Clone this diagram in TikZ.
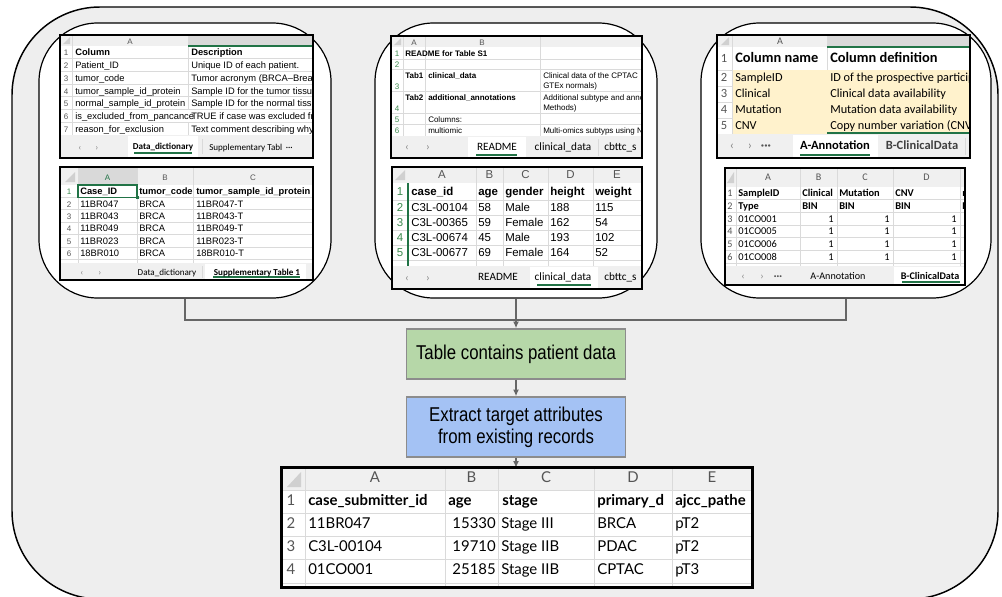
\documentclass[tikz,border=0pt]{standalone}
\usepackage{fontspec}
\setmainfont{Liberation Sans}
\newfontfamily\calib{Carlito}
\newfontfamily\latof{Lato}
\newfontfamily\narrowf[FakeStretch=0.84]{Liberation Sans}
\usetikzlibrary{arrows.meta}
\definecolor{outerbg}{HTML}{EEEEEE}
\definecolor{hdr}{HTML}{F0F0F0}
\definecolor{hdrsel}{HTML}{D9D9D9}
\definecolor{gridc}{HTML}{DADADA}
\definecolor{xg}{HTML}{217346}
\definecolor{tabbg}{HTML}{F0F0F0}
\definecolor{hdrtxt}{HTML}{555555}
\definecolor{rngreen}{HTML}{3D8A4F}
\definecolor{beige}{HTML}{FFF2CC}
\definecolor{gboxc}{HTML}{B6D7A8}
\definecolor{bboxc}{HTML}{A4C2F4}
\definecolor{boxline}{HTML}{8C8C8C}
\definecolor{connc}{HTML}{666666}
\definecolor{tric}{HTML}{D0D0D0}
\newcounter{tn}
\newcommand{\tx}[3][]{\stepcounter{tn}\node[txt,#1] (t\arabic{tn}) at (#2) {#3};}
\tikzset{
 txt/.style={inner sep=0pt, anchor=mid west},
 gridln/.style={draw=gridc, line width=0.5pt},
 sheet/.style={draw=black, line width=1.6pt},
 panel/.style={draw=black, fill=white, line width=0.9pt, rounded corners=44pt, inner sep=0pt},
 conn/.style={draw=connc, line width=1pt},
 arr/.style={conn, -{Latex[length=5pt,width=4.5pt]}},
 flowbox/.style={draw=boxline, line width=1.1pt, inner sep=0pt, align=center, font=\narrowf\fontsize{15}{16.5}\selectfont},
 hlet/.style={anchor=mid, text=hdrtxt},
 rnum/.style={anchor=mid, text=hdrtxt},
 rng/.style={anchor=mid, text=rngreen},
 f1/.style={font=\fontsize{7}{8}\selectfont},
 f1b/.style={font=\fontsize{7}{8}\selectfont\bfseries},
 f2/.style={font=\fontsize{6}{7}\selectfont},
 f2b/.style={font=\fontsize{6}{7}\selectfont\bfseries},
 f3/.style={font=\fontsize{8.6}{9}\selectfont},
 f3b/.style={font=\fontsize{8.6}{9}\selectfont\bfseries},
 f4/.style={font=\calib\fontsize{9.2}{10}\selectfont},
 f4b/.style={font=\calib\bfseries\fontsize{10.8}{12}\selectfont},
 f5/.style={font=\calib\fontsize{7.8}{9}\selectfont},
 f5b/.style={font=\calib\bfseries\fontsize{7.8}{9}\selectfont},
 f6/.style={font=\latof\fontsize{11.2}{12}\selectfont},
 f6b/.style={font=\latof\bfseries\fontsize{11.2}{12}\selectfont},
 ta/.style={font=\calib\fontsize{6.8}{8}\selectfont},
 tab/.style={font=\calib\bfseries\fontsize{6.8}{8}\selectfont},
 tb/.style={font=\calib\fontsize{8.4}{9}\selectfont},
 tc/.style={font=\calib\fontsize{9.4}{10}\selectfont},
 tcb/.style={font=\calib\bfseries\fontsize{9.4}{10}\selectfont},
 td/.style={font=\calib\fontsize{7.6}{9}\selectfont},
 tdb/.style={font=\calib\bfseries\fontsize{7.6}{9}\selectfont},
}
\begin{document}
\begin{tikzpicture}[x=0.75pt,y=-0.75pt]
\useasboundingbox (0,0) rectangle (1002,596);
\clip (0,0) rectangle (1002,596);
\fill[white] (0,0) rectangle (1002,596);
% outer frame
\draw[fill=outerbg, line width=1.1pt, rounded corners=66pt] (12,7) rectangle (998,599);

% panels
\node[panel, minimum width=219pt, minimum height=206.25pt] (p1) at (185,160.5) {};
\node[panel, minimum width=211.5pt, minimum height=206.25pt] (p2) at (516,160.5) {};
\node[panel, minimum width=217.5pt, minimum height=206.25pt] (p3) at (846,160.5) {};

% ================= Sheet 1a
\begin{scope}
 \clip (60,35) rectangle (313,158);
 \fill[white] (60,35) rectangle (313,158);
 \fill[hdr] (60,35) rectangle (313,46);
 \fill[hdrsel] (188,35) rectangle (313,46);
 \fill[tric] (70,37) -- (70,44) -- (63,44) -- cycle;
 \foreach \yy in {58.7,71.4,84.1,96.8,109.5,122.2} \draw[gridln] (60,\yy) -- (313,\yy);
 \draw[gridln] (72,35) -- (72,135) (188,35) -- (188,135);
 \draw[xg,line width=1pt] (188,46) -- (313,46);
 \tx[f2,hlet]{130,41}{A}
 \tx[f2,rnum]{66,52.4}{1}\tx[f2,rnum]{66,65.1}{2}\tx[f2,rnum]{66,77.8}{3}\tx[f2,rnum]{66,90.5}{4}
 \tx[f2,rnum]{66,103.2}{5}\tx[f2,rnum]{66,115.9}{6}\tx[f2,rnum]{66,128.6}{7}
 \tx[f1b]{75,52.4}{Column}\tx[f1b]{191,52.4}{Description}
 \tx[f1]{75,65.1}{Patient\_ID}\tx[f1]{191,65.1}{Unique ID of each patient.}
 \tx[f1]{75,77.8}{tumor\_code}\tx[f1]{191,77.8}{Tumor acronym (BRCA--Breast}
 \tx[f1]{75,90.5}{tumor\_sample\_id\_protein}\tx[f1]{191,90.5}{Sample ID for the tumor tissue}
 \tx[f1]{75,103.2}{normal\_sample\_id\_protein}\tx[f1]{191,103.2}{Sample ID for the normal tissue}
 \fill[white] (188,109.6) rectangle (313,122.1);
 \tx[f1]{75,115.9}{is\_excluded\_from\_pancance}\tx[f1]{191,115.9}{TRUE if case was excluded from}
 \tx[f1]{75,128.6}{reason\_for\_exclusion}\tx[f1]{191,128.6}{Text comment describing why}
 \fill[tabbg] (60,135) rectangle (313,158);
 \fill[white] (128,136) rectangle (198,158);
 \draw[xg,line width=1pt] (134,153) -- (192,153);
 \tx[ta,anchor=mid,text=gray]{80,146.5}{‹}\tx[ta,anchor=mid,text=gray]{97,146.5}{›}
 \tx[tab,anchor=mid]{163,146}{Data\_dictionary}
 \draw[gridln] (202,139) -- (202,154);
 \tx[ta]{209,146.5}{Supplementary Tabl \,···}
\end{scope}
\draw[sheet] (60,35) rectangle (313,158);

% ================= Sheet 1b
\begin{scope}
 \clip (60,167) rectangle (313,280);
 \fill[white] (60,167) rectangle (313,280);
 \fill[hdr] (60,167) rectangle (313,185);
 \fill[hdrsel] (78,167) rectangle (137,185);
 \fill[tric] (75,172) -- (75,182) -- (65,182) -- cycle;
 \foreach \yy in {197.4,209.8,222.2,234.6,247,259.4} \draw[gridln] (60,\yy) -- (313,\yy);
 \draw[gridln] (78,167) -- (78,263) (137,167) -- (137,263) (193,167) -- (193,263);
 \draw[xg,line width=1pt] (78,185) -- (137,185);
 \tx[f2,hlet,text=xg]{107.5,177}{A}\tx[f2,hlet]{165,177}{B}\tx[f2,hlet]{253,177}{C}
 \tx[f2,rng]{69,191.2}{1}\tx[f2,rnum]{69,203.6}{2}\tx[f2,rnum]{69,216}{3}
 \tx[f2,rnum]{69,228.4}{4}\tx[f2,rnum]{69,240.8}{5}\tx[f2,rnum]{69,253.2}{6}
 \draw[xg,line width=1.1pt] (78,185) rectangle (137,197.4);
 \fill[xg] (135.5,195.9) rectangle (138.5,198.9);
 \tx[f1b]{80,191.2}{Case\_ID}\tx[f1b]{139,191.2}{tumor\_code}\tx[f1b]{196,191.2}{tumor\_sample\_id\_protein}
 \tx[f1]{80,203.6}{11BR047}\tx[f1]{139,203.6}{BRCA}\tx[f1]{196,203.6}{11BR047-T}
 \tx[f1]{80,216}{11BR043}\tx[f1]{139,216}{BRCA}\tx[f1]{196,216}{11BR043-T}
 \tx[f1]{80,228.4}{11BR049}\tx[f1]{139,228.4}{BRCA}\tx[f1]{196,228.4}{11BR049-T}
 \tx[f1]{80,240.8}{11BR023}\tx[f1]{139,240.8}{BRCA}\tx[f1]{196,240.8}{11BR023-T}
 \tx[f1]{80,253.2}{18BR010}\tx[f1]{139,253.2}{BRCA}\tx[f1]{196,253.2}{18BR010-T}
 \fill[tabbg] (60,263) rectangle (313,280);
 \fill[white] (205,264) rectangle (306,280);
 \draw[xg,line width=1pt] (213,277) -- (300,277);
 \tx[ta,anchor=mid,text=gray]{82,272}{‹}\tx[ta,anchor=mid,text=gray]{100,272}{›}
 \tx[ta,anchor=mid]{167,272}{Data\_dictionary}
 \draw[gridln] (202,266) -- (202,278);
 \tx[tab,anchor=mid]{257,271.5}{Supplementary Table 1}
\end{scope}
\draw[sheet] (60,167) rectangle (313,280);

% ================= Sheet 2a
\begin{scope}
 \clip (391,36) rectangle (642,158);
 \fill[white] (391,36) rectangle (642,158);
 \fill[hdr] (391,36) rectangle (642,47);
 \fill[tric] (401,38) -- (401,45) -- (394,45) -- cycle;
 \foreach \yy in {59,69,91,113,124} \draw[gridln] (391,\yy) -- (642,\yy);
 \draw[gridln] (403,36) -- (403,136) (425,36) -- (425,136) (540,36) -- (540,136);
 \tx[f2,hlet]{414,41.5}{A}\tx[f2,hlet]{482,41.5}{B}
 \tx[f2,rng]{397,53}{1}\tx[f2,rng]{397,64}{2}\tx[f2,rng]{397,86}{3}
 \tx[f2,rng]{397,108}{4}\tx[f2,rng]{397,118.5}{5}\tx[f2,rng]{397,130}{6}
 \tx[f2b]{405,53}{README for Table S1}
 \tx[f2b]{405,75}{Tab1}\tx[f2b]{428,75}{clinical\_data}
 \tx[f2]{543,75}{Clinical data of the CPTAC}\tx[f2]{543,85}{GTEx normals)}
 \tx[f2b]{405,97}{Tab2}\tx[f2b]{428,97}{additional\_annotations}
 \tx[f2]{543,97}{Additional subtype and anno}\tx[f2]{543,107}{Methods)}
 \tx[f2]{428,118.5}{Columns:}
 \tx[f2]{428,130}{multiomic}\tx[f2]{543,130}{Multi-omics subtyps using N}
 \fill[tabbg] (391,136) rectangle (642,158);
 \fill[white] (468,137) rectangle (526,158);
 \draw[xg,line width=1pt] (476,155) -- (517,155);
 \tx[tb,anchor=mid,text=gray]{407,147}{‹}\tx[tb,anchor=mid,text=gray]{428,147}{›}
 \tx[tb,anchor=mid]{497,146.5}{README}
 \tx[tb,anchor=mid]{563,146.5}{clinical\_data}
 \draw[gridln] (598,139) -- (598,156);
 \tx[tb]{604,146.5}{cbttc\_s}
\end{scope}
\draw[sheet] (391,36) rectangle (642,158);

% ================= Sheet 2b
\begin{scope}
 \clip (392,167) rectangle (642,289);
 \fill[white] (392,167) rectangle (642,289);
 \fill[hdr] (392,167) rectangle (642,183);
 \fill[tric] (405,170) -- (405,180) -- (395,180) -- cycle;
 \foreach \yy in {200,215,230,245,260} \draw[gridln] (392,\yy) -- (642,\yy);
 \draw[gridln] (476,167) -- (476,266) (503,167) -- (503,266) (548,167) -- (548,266) (593,167) -- (593,266);
 \draw[xg,line width=1.2pt] (408,183) -- (408,266);
 \tx[f3,hlet]{442,175}{A}\tx[f3,hlet]{489.5,175}{B}\tx[f3,hlet]{525.5,175}{C}
 \tx[f3,hlet]{570.5,175}{D}\tx[f3,hlet]{617,175}{E}
 \tx[f3,rng]{400,191.5}{1}\tx[f3,rng]{400,207.5}{2}\tx[f3,rng]{400,222.5}{3}
 \tx[f3,rng]{400,237.5}{4}\tx[f3,rng]{400,252.5}{5}
 \tx[f3b]{411,191.5}{case\_id}\tx[f3b]{478,191.5}{age}\tx[f3b]{505,191.5}{gender}
 \tx[f3b]{550,191.5}{height}\tx[f3b]{595,191.5}{weight}
 \tx[f3]{411,207.5}{C3L-00104}\tx[f3]{478,207.5}{58}\tx[f3]{505,207.5}{Male}\tx[f3]{550,207.5}{188}\tx[f3]{595,207.5}{115}
 \tx[f3]{411,222.5}{C3L-00365}\tx[f3]{478,222.5}{59}\tx[f3]{505,222.5}{Female}\tx[f3]{550,222.5}{162}\tx[f3]{595,222.5}{54}
 \tx[f3]{411,237.5}{C3L-00674}\tx[f3]{478,237.5}{45}\tx[f3]{505,237.5}{Male}\tx[f3]{550,237.5}{193}\tx[f3]{595,237.5}{102}
 \tx[f3]{411,252.5}{C3L-00677}\tx[f3]{478,252.5}{69}\tx[f3]{505,252.5}{Female}\tx[f3]{550,252.5}{164}\tx[f3]{595,252.5}{52}
 \fill[tabbg] (392,266) rectangle (642,289);
 \fill[white] (530,267) rectangle (598,289);
 \draw[xg,line width=1pt] (537,285) -- (591,285);
 \tx[tb,anchor=mid,text=gray]{407,277.5}{‹}\tx[tb,anchor=mid,text=gray]{428,277.5}{›}
 \tx[tb,anchor=mid]{498,277}{README}
 \tx[tb,anchor=mid]{563,277}{clinical\_data}
 \tx[tb]{604,277}{cbttc\_s}
\end{scope}
\draw[sheet] (392,167) rectangle (642,289);

% ================= Sheet 3a
\begin{scope}
 \clip (717,35) rectangle (970,158);
 \fill[white] (717,35) rectangle (970,158);
 \fill[hdr] (717,35) rectangle (970,47);
 \fill[hdrsel] (827,35) rectangle (970,47);
 \fill[tric] (729,37) -- (729,45) -- (721,45) -- cycle;
 \fill[beige] (732,70) rectangle (970,134);
 \foreach \yy in {70,86,102,118} \draw[gridln] (717,\yy) -- (732,\yy);
 \draw[gridln] (732,35) -- (732,134) (827,35) -- (827,70);
 \draw[xg,line width=1pt] (827,47) -- (970,47);
 \draw[xg,line width=1pt] (827,133) -- (970,133);
 \tx[td,hlet]{780,41}{A}
 \tx[tc,rnum]{724,59}{1}\tx[tc,rnum]{724,78}{2}\tx[tc,rnum]{724,94}{3}\tx[tc,rnum]{724,110}{4}\tx[tc,rnum]{724,126}{5}
 \tx[f4b]{735,59}{Column name}\tx[f4b]{830,59}{Column definition}
 \tx[f4]{735,78}{SampleID}\tx[f4]{830,78}{ID of the prospective particip}
 \tx[f4]{735,94}{Clinical}\tx[f4]{830,94}{Clinical data availability}
 \tx[f4]{735,110}{Mutation}\tx[f4]{830,110}{Mutation data availability}
 \tx[f4]{735,126}{CNV}\tx[f4]{830,126}{Copy number variation (CNV}
 \fill[tabbg] (717,134) rectangle (970,158);
 \fill[white] (793,135) rectangle (878,158);
 \draw[xg,line width=1pt] (800,155) -- (870,155);
 \tx[tc,anchor=mid,text=gray]{732,146}{‹}\tx[tc,anchor=mid,text=gray]{750,146}{›}
 \tx[tcb,anchor=mid,text=hdrtxt]{766,146}{···}
 \tx[tcb,anchor=mid]{835,145.5}{A-Annotation}
 \tx[tcb,anchor=mid,text=black!75]{922,145.5}{B-ClinicalData}
 \draw[gridln] (965,138) -- (965,155);
\end{scope}
\draw[sheet] (717,35) rectangle (970,158);

% ================= Sheet 3b
\begin{scope}
 \clip (725,168) rectangle (965,285);
 \fill[white] (725,168) rectangle (965,285);
 \fill[hdr] (725,168) rectangle (965,186.5);
 \fill[tric] (734,172) -- (734,183) -- (727,183) -- cycle;
 \foreach \yy in {199.3,212.1,224.9,237.7,250.5,263.3} \draw[gridln] (725,\yy) -- (965,\yy);
 \draw[gridln] (736,168) -- (736,266) (800,168) -- (800,266) (837,168) -- (837,266) (893,168) -- (893,266) (960,168) -- (960,266);
 \tx[td,hlet]{768,177}{A}\tx[td,hlet]{818.5,177}{B}\tx[td,hlet]{865,177}{C}\tx[td,hlet]{926.5,177}{D}
 \tx[td,rnum]{730,192.9}{1}\tx[td,rnum]{730,205.7}{2}\tx[td,rnum]{730,218.5}{3}
 \tx[td,rnum]{730,231.3}{4}\tx[td,rnum]{730,244.1}{5}\tx[td,rnum]{730,256.9}{6}
 \tx[f5b]{738,192.9}{SampleID}\tx[f5b]{802,192.9}{Clinical}\tx[f5b]{839,192.9}{Mutation}\tx[f5b]{895,192.9}{CNV}\tx[f5b]{962,192.9}{mi}
 \tx[f5b]{738,205.7}{Type}\tx[f5b]{802,205.7}{BIN}\tx[f5b]{839,205.7}{BIN}\tx[f5b]{895,205.7}{BIN}\tx[f5b]{962,205.7}{BIN}
 \tx[f5]{738,218.5}{01CO001}\tx[f5,anchor=mid east]{834,218.5}{1}\tx[f5,anchor=mid east]{890,218.5}{1}\tx[f5,anchor=mid east]{957,218.5}{1}
 \tx[f5]{738,231.3}{01CO005}\tx[f5,anchor=mid east]{834,231.3}{1}\tx[f5,anchor=mid east]{890,231.3}{1}\tx[f5,anchor=mid east]{957,231.3}{1}
 \tx[f5]{738,244.1}{01CO006}\tx[f5,anchor=mid east]{834,244.1}{1}\tx[f5,anchor=mid east]{890,244.1}{1}\tx[f5,anchor=mid east]{957,244.1}{1}
 \tx[f5]{738,256.9}{01CO008}\tx[f5,anchor=mid east]{834,256.9}{1}\tx[f5,anchor=mid east]{890,256.9}{1}\tx[f5,anchor=mid east]{957,256.9}{1}
 \fill[tabbg] (725,266) rectangle (965,285);
 \fill[white] (894,267) rectangle (965,285);
 \draw[xg,line width=1pt] (902,282) -- (960,282);
 \tx[td,anchor=mid,text=gray]{743,276}{‹}\tx[td,anchor=mid,text=gray]{762,276}{›}
 \tx[tdb,anchor=mid,text=hdrtxt]{778,276}{···}
 \tx[td,anchor=mid]{838,276}{A-Annotation}
 \tx[tdb,anchor=mid]{930,275.5}{B-ClinicalData}
\end{scope}
\draw[sheet] (725,168) rectangle (965,285);

% ================= Flow
\node[flowbox, fill=gboxc, minimum width=164.25pt, minimum height=37.5pt] (g) at (516,354) {Table contains patient data};
\node[flowbox, fill=bboxc, minimum width=164.25pt, minimum height=45pt] (b) at (516,427) {Extract target attributes\\from existing records};
\node[inner sep=0pt, minimum width=352.5pt, minimum height=89.25pt] (tbl) at (517,527.5) {};

\coordinate (hy) at (516,320);
\draw[conn] (p1.south) |- (hy) -| (p3.south);
\draw[arr] (p2.south) -- (g.north);
\draw[arr] (g.south) -- (b.north);
\draw[arr] (b.south) -- (b.south |- tbl.north);

% ================= Bottom table
\begin{scope}
 \clip (282,468) rectangle (752,587);
 \fill[white] (282,468) rectangle (752,587);
 \fill[hdr] (282,468) rectangle (752,490);
 \fill[tric] (301,472) -- (301,487) -- (287,487) -- cycle;
 \foreach \yy in {490,513,536,559,583} \draw[gridln] (282,\yy) -- (752,\yy);
 \draw[gridln] (305,468) -- (305,587) (445,468) -- (445,587) (498,468) -- (498,587) (594,468) -- (594,587) (672,468) -- (672,587);
 \tx[f6,hlet]{375,479}{A}\tx[f6,hlet]{471.5,479}{B}\tx[f6,hlet]{546,479}{C}\tx[f6,hlet]{633,479}{D}\tx[f6,hlet]{712,479}{E}
 \tx[f6,rnum]{291,501.5}{1}\tx[f6,rnum]{291,524.5}{2}\tx[f6,rnum]{291,547.5}{3}\tx[f6,rnum]{291,571}{4}
 \tx[f6b]{308,501.5}{case\_submitter\_id}\tx[f6b]{448,501.5}{age}\tx[f6b]{502,501.5}{stage}
 \tx[f6b]{597,501.5}{primary\_d}\tx[f6b]{675,501.5}{ajcc\_pathe}
 \tx[f6]{308,524.5}{11BR047}\tx[f6,anchor=mid east]{496,524.5}{15330}\tx[f6]{501,524.5}{Stage III}\tx[f6]{597,524.5}{BRCA}\tx[f6]{675,524.5}{pT2}
 \tx[f6]{308,547.5}{C3L-00104}\tx[f6,anchor=mid east]{496,547.5}{19710}\tx[f6]{501,547.5}{Stage IIB}\tx[f6]{597,547.5}{PDAC}\tx[f6]{675,547.5}{pT2}
 \tx[f6]{308,571}{01CO001}\tx[f6,anchor=mid east]{496,571}{25185}\tx[f6]{501,571}{Stage IIB}\tx[f6]{597,571}{CPTAC}\tx[f6]{675,571}{pT3}
\end{scope}
\draw[sheet, line width=1.9pt] (tbl.north west) rectangle (tbl.south east);
\end{tikzpicture}
\end{document}
